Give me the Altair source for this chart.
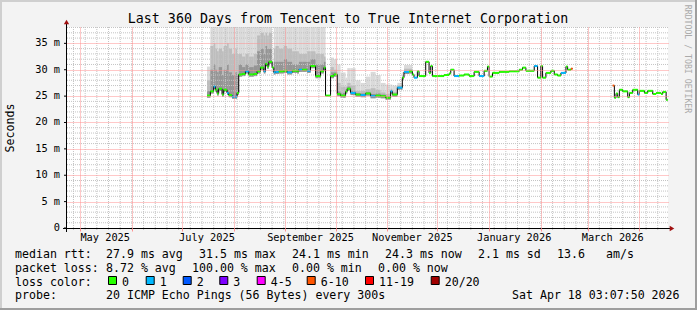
import altair as alt
import pandas as pd

MONO = "DejaVu Sans Mono"
L, T, W, H = 67, 27, 601, 201  # plot origin and size (pixels)

TITLE = "Last 360 Days from Tencent to True Internet Corporation"

dates = [
    "2025-07-16", "2025-07-18", "2025-07-20", "2025-07-21", "2025-07-22", "2025-07-23", "2025-07-25", "2025-07-26", "2025-07-28", "2025-07-29",
    "2025-07-31", "2025-08-02", "2025-08-03", "2025-08-04", "2025-08-06", "2025-08-08", "2025-08-10", "2025-08-13", "2025-08-15", "2025-08-17",
    "2025-08-19", "2025-08-20", "2025-08-21", "2025-08-22", "2025-08-24", "2025-08-25", "2025-08-26", "2025-08-28", "2025-08-31", "2025-09-02",
    "2025-09-05", "2025-09-08", "2025-09-09", "2025-09-11", "2025-09-14", "2025-09-16", "2025-09-19", "2025-09-22", "2025-09-24", "2025-09-25",
    "2025-09-26", "2025-09-28", "2025-09-30", "2025-10-02", "2025-10-04", "2025-10-07", "2025-10-08", "2025-10-10", "2025-10-13", "2025-10-16",
    "2025-10-19", "2025-10-22", "2025-10-25", "2025-10-28", "2025-10-31", "2025-11-03", "2025-11-04", "2025-11-07", "2025-11-10", "2025-11-11",
    "2025-11-14", "2025-11-16", "2025-11-17", "2025-11-19", "2025-11-20", "2025-11-23", "2025-11-24", "2025-11-26", "2025-11-27", "2025-11-28",
    "2025-12-02", "2025-12-05", "2025-12-08", "2025-12-09", "2025-12-11", "2025-12-14", "2025-12-17", "2025-12-20", "2025-12-23", "2025-12-26",
    "2025-12-29", "2025-12-31", "2026-01-01", "2026-01-03", "2026-01-07", "2026-01-10", "2026-01-13", "2026-01-16", "2026-01-19", "2026-01-21",
    "2026-01-23", "2026-01-25", "2026-01-28", "2026-01-30", "2026-02-01", "2026-02-02", "2026-02-04", "2026-02-07", "2026-02-09", "2026-02-11",
    "2026-02-13", "2026-02-16", "2026-02-17", "2026-02-19",
    "2026-03-16", "2026-03-17", "2026-03-18", "2026-03-19", "2026-03-20", "2026-03-22", "2026-03-25", "2026-03-26", "2026-03-28", "2026-03-31",
    "2026-04-01", "2026-04-04", "2026-04-06", "2026-04-09", "2026-04-11", "2026-04-14", "2026-04-15", "2026-04-17",
]

median_ms = [
    25.1, 25.9, 26.8, 26.2, 25.5, 26.4, 25.3, 26.2, 25.6, 25.2,
    24.9, 24.9, 25.6, 29.1, 29.2, 29.7, 29.1, 29.2, 29.7, 30.4,
    29.7, 31.1, 30.6, 31.5, 30.4, 29.5, 29.6, 29.7, 29.8, 29.5,
    29.8, 29.7, 30.0, 30.0, 29.8, 30.7, 28.8, 29.7, 30.4, 25.1,
    25.1, 28.8, 29.1, 25.4, 25.1, 25.9, 26.4, 25.6, 25.3, 25.2,
    25.5, 25.0, 25.1, 25.0, 24.7, 25.9, 25.3, 26.6, 28.5, 29.6,
    29.7, 29.1, 28.5, 29.7, 28.8, 28.8, 31.5, 29.4, 30.7, 28.8,
    28.8, 29.0, 29.3, 30.0, 28.8, 28.9, 29.1, 28.8, 29.6, 28.8,
    29.8, 30.6, 28.7, 29.4, 29.6, 29.6, 29.7, 29.7, 30.0, 30.4,
    29.8, 29.8, 30.7, 28.5, 30.7, 28.5, 29.4, 29.8, 29.1, 28.9,
    29.4, 30.6, 30.0, 30.2,
    27.0, 24.7, 25.5, 24.8, 26.2, 25.9, 24.8, 25.6, 26.2, 25.3,
    26.0, 25.6, 26.0, 25.4, 25.6, 25.4, 25.8, 24.3,
]

loss = [
    "0", "0", "1", "0", "0", "0", "0", "0", "1", "0",
    "1", "1", "0", "0", "0", "1", "0", "0", "0", "0",
    "1", "0", "0", "0", "0", "1", "1", "0", "0", "1",
    "0", "0", "1", "0", "1", "0", "0", "0", "0", "0",
    "0", "0", "0", "0", "0", "0", "0", "1", "0", "1",
    "0", "1", "0", "0", "0", "1", "0", "1", "0", "1",
    "0", "0", "1", "0", "0", "0", "0", "0", "0", "0",
    "0", "0", "0", "0", "1", "0", "0", "0", "0", "1",
    "0", "0", "0", "0", "0", "0", "0", "0", "0", "0",
    "0", "0", "1", "0", "0", "0", "0", "0", "0", "0",
    "1", "0", "0", "6-10",
    "6-10", "0", "0", "0", "0", "0", "0", "0", "0", "1",
    "0", "0", "0", "0", "0", "0", "0", "0",
]

segment = [1] * 104 + [2] * 18

N = None
smoke_hi = [
    30.6, 38.1, 38.1, 38.1, 38.1, 38.1, 38.1, 38.1, 38.1, 38.1,
    38.1, 38.1, 38.1, 38.1, 38.1, 38.1, 38.1, 38.1, 38.1, 38.1,
    38.1, 38.1, 38.1, 38.1, N, 38.1, 38.1, 38.1, 38.1, 38.1,
    38.1, 38.1, 38.1, 38.1, 38.1, 38.1, 38.1, 38.1, 38.1, N,
    N, 32.3, 32.0, 31.0, 29.5, 28.5, 30.3, 30.3, 28.0, 27.5,
    28.7, 29.6, 29.0, 27.5, 27.2, 27.2, 27.0, 27.5, 29.5, 30.9,
    30.9,
] + [N] * 61
smoke_mid = [
    28.0, 34.5, 35.0, 34.0, 33.5, 34.0, 33.5, 34.5, 35.0, 34.0,
    33.0, 34.0, 33.0, 33.0, 32.5, 33.0, 32.5, 33.0, 36.5, 37.0,
    36.5, 37.0, 36.5, 37.0, N, 34.0, 34.5, 34.0, 34.5, 34.0,
    33.5, 33.5, 33.0, 33.0, 33.5, 33.5, 33.0, 33.0, 32.5, N,
    N, 30.5, 30.0, 27.5, 26.8, 26.8, 27.5, 27.0, 26.0, 26.0,
    26.3, 26.5, 26.2, 25.7, 25.4, 26.4, 25.8, 27.0, 29.0, 30.2,
    30.2,
] + [N] * 61
smoke_core = [
    26.0, 30.0, 31.0, 30.0, 29.5, 30.5, 29.0, 30.0, 31.0, 29.5,
    29.0, 29.5, 29.0, 31.0, 30.5, 31.0, 30.5, 30.8, 33.5, 34.0,
    33.0, 34.5, 34.0, 34.0, N, 31.5, 31.5, 31.5, 32.0, 31.5,
    31.0, 31.0, 31.5, 31.5, 31.5, 32.0, 31.0, 31.0, 31.5, N,
    N, 29.5, 29.5, 25.9, 25.6, 26.3, 26.8, 26.0, 25.6, 25.5,
    25.8, 25.4, 25.5, 25.3, 25.0, 26.1, 25.5, 26.8, 28.6, 29.7,
    29.8,
] + [N] * 61

loss_labels = ["0", "1", "2", "3", "4-5", "6-10", "11-19", "20/20"]
loss_colors = ["#26ff00", "#00b8ff", "#0059ff", "#7e00ff", "#ff00ff", "#ff5500", "#ff0000", "#a10000"]

rtt_stats = ["27.9 ms avg", "31.5 ms max", "24.1 ms min", "24.3 ms now", "2.1 ms sd", "13.6", "am/s"]
loss_stats = ["8.72 % avg", "100.00 % max", "0.00 % min", "0.00 % now"]
probe_text = "20 ICMP Echo Pings (56 Bytes) every 300s"
stamp = "Sat Apr 18 03:07:50 2026"
row_labels = ["median rtt:", "packet loss:", "loss color:", "probe:"]
y_ticks = [0, 5, 10, 15, 20, 25, 30, 35]
y_tick_labels = ["0", "5 m", "10 m", "15 m", "20 m", "25 m", "30 m", "35 m"]
x_label_dates = ["2025-05-16", "2025-07-16", "2025-09-16", "2025-11-16", "2026-01-16", "2026-03-16"]
x_labels = ["May 2025", "July 2025", "September 2025", "November 2025", "January 2026", "March 2026"]


# ---------------- data tables ----------------
def iso(ts):
    return ts.strftime("%Y-%m-%dT%H:%M:%SZ")


df = pd.DataFrame({"date": pd.to_datetime(dates), "ms": median_ms, "loss": loss, "seg": segment,
                   "hi": smoke_hi, "mid": smoke_mid, "core": smoke_core})
df["end"] = df.groupby("seg")["date"].shift(-1)
df["end"] = df["end"].fillna(df["date"] + pd.Timedelta(days=1))
df["d"] = df["date"].map(iso)
df["e"] = df["end"].map(iso)
df["lo"] = df["ms"] - 0.4
df = df.drop(columns=["date", "end"])

ends = df.groupby("seg").tail(1)[["e", "ms", "seg"]].rename(columns={"e": "d"})
line_df = pd.concat([df[["d", "ms", "seg"]], ends], ignore_index=True)

smoke_df = df.dropna(subset=["hi"])

ylab_df = pd.DataFrame({"v": y_ticks, "t": y_tick_labels})
xlab_df = pd.DataFrame({"d": [s + "T00:00:00Z" for s in x_label_dates], "t": x_labels})

# grid positions (calendar structure, not data)
months = pd.date_range("2025-05-01", "2026-04-01", freq="MS")
weeks = pd.date_range("2025-04-27", "2026-04-12", freq="7D")
week_df = pd.DataFrame({"d": [iso(t) for t in weeks]})
minor_y_df = pd.DataFrame({"v": [v for v in range(1, 39) if v % 5]})


def dt(ts):
    return alt.DateTime(year=ts.year, month=ts.month, date=ts.day, utc=True)


month_vals = [dt(t) for t in months]
major_y_vals = [5, 10, 15, 20, 25, 30, 35]

XS = alt.Scale(type="utc",
               domain=[alt.DateTime(year=2025, month=4, date=23, hours=3, minutes=7, seconds=50, utc=True),
                       alt.DateTime(year=2026, month=4, date=18, hours=3, minutes=7, seconds=50, utc=True)])
YS = alt.Scale(domain=[0, 38.1], nice=False, zero=True)

RED = "#ff9090"


def X(f, axis=None):
    return alt.X(f, type="temporal", scale=XS, axis=axis)


def Y(f, axis=None):
    return alt.Y(f, type="quantitative", scale=YS, axis=axis)


month_axis = alt.Axis(values=month_vals, grid=True, gridColor=RED, gridDash=[1, 1], gridWidth=1, gridOpacity=1,
                      labels=False, domain=False, title=None, zindex=1, orient="bottom", tickRound=True,
                      ticks=True, tickColor=RED, tickSize=3, tickWidth=1)
major_y_axis = alt.Axis(values=major_y_vals, grid=True, gridColor=RED, gridDash=[1, 1], gridWidth=1, gridOpacity=1,
                        labels=False, domain=False, title=None, zindex=1, orient="left", tickRound=True,
                        ticks=False)

layers = []

# smoke
layers.append(alt.Chart(smoke_df).mark_rect(color="#dadada", clip=True).encode(
    x=X("d"), x2=alt.X2("e"), y=Y("lo"), y2=alt.Y2("hi")))
layers.append(alt.Chart(smoke_df).mark_rect(color="#bdbdbd", clip=True).encode(
    x=X("d", month_axis), x2=alt.X2("e"), y=Y("lo", major_y_axis), y2=alt.Y2("mid")))
layers.append(alt.Chart(smoke_df).mark_rect(color="#959595", clip=True).encode(
    x=X("d"), x2=alt.X2("e"), y=Y("lo"), y2=alt.Y2("core")))

# minor dotted grid
layers.append(alt.Chart(minor_y_df).mark_rule(color="#c4c4c4", strokeDash=[1, 1], strokeWidth=1).encode(
    y=Y("v"), x=alt.value(0), x2=alt.value(W)))
layers.append(alt.Chart(week_df).mark_rule(color="#c4c4c4", strokeDash=[1, 1], strokeWidth=1).encode(
    x=X("d"), y=alt.value(0), y2=alt.value(H + 2)))

# median line: black steps + loss-coloured segments
layers.append(alt.Chart(line_df).mark_line(interpolate="step-after", color="#000000", strokeWidth=1).encode(
    x=X("d"), y=Y("ms"), detail="seg:N"))
layers.append(alt.Chart(df).mark_rule(strokeWidth=2).encode(
    x=X("d"), x2=alt.X2("e"), y=Y("ms"),
    color=alt.Color("loss:N", scale=alt.Scale(domain=loss_labels, range=loss_colors), legend=None)))

# tick labels through the shared scales
layers.append(alt.Chart(ylab_df).mark_text(align="right", baseline="middle", font=MONO, fontSize=10.3,
                                            color="#000").encode(y=Y("v"), x=alt.value(-7), text="t:N"))
layers.append(alt.Chart(ylab_df).mark_rule(color="#000", strokeWidth=1).encode(
    y=Y("v"), x=alt.value(-3), x2=alt.value(0)))
layers.append(alt.Chart(xlab_df).mark_text(align="center", baseline="middle", font=MONO, fontSize=10.3,
                                            color="#000").encode(x=X("d"), y=alt.value(H + 10), text="t:N"))

one = pd.DataFrame({"a": [0]})

# axis lines and arrows
layers.append(alt.Chart(one).mark_rule(color="#000", strokeWidth=1).encode(
    x=alt.value(-0.5), y=alt.value(-5), y2=alt.value(H + 4)))
layers.append(alt.Chart(one).mark_rule(color="#000", strokeWidth=1).encode(
    y=alt.value(H + 0.5), x=alt.value(-4), x2=alt.value(W + 2)))
layers.append(alt.Chart(one).mark_point(shape="triangle-up", filled=True, color="#a01010", size=28, opacity=1).encode(
    x=alt.value(-0.5), y=alt.value(-5)))
layers.append(alt.Chart(one).mark_point(shape="triangle-right", filled=True, color="#a01010", size=28, opacity=1).encode(
    x=alt.value(W + 4), y=alt.value(H + 0.5)))

# outer 3D border
for (x1, x2, y1, y2, c) in [(-L, 697 - L, -T + 1, None, "#cfcfcf"), (-L + 1, None, -T, 310 - T, "#cfcfcf"),
                            (-L, 697 - L, 310 - T - 1, None, "#9e9e9e"), (697 - L - 1, None, -T, 310 - T, "#9e9e9e")]:
    enc = {"x": alt.value(x1), "y": alt.value(y1)}
    if x2 is not None:
        enc["x2"] = alt.value(x2)
    if y2 is not None:
        enc["y2"] = alt.value(y2)
    layers.append(alt.Chart(one).mark_rule(color=c, strokeWidth=2).encode(**enc))


def txt(s, ax, ay, size=11.6, align="left", angle=0, color="#000000"):
    return alt.Chart(pd.DataFrame({"t": [s]})).mark_text(
        align=align, baseline="middle", font=MONO, fontSize=size, angle=angle, color=color).encode(
        x=alt.value(ax - L), y=alt.value(ay - T), text="t:N")


layers.append(txt(TITLE, 348, 19, size=13.3, align="center"))
layers.append(txt("Seconds", 11, 128, size=11.6, align="center", angle=270))
layers.append(txt("RRDTOOL / TOBI OETIKER", 687, 59, size=8.2, align="center", angle=90, color="#aaaaaa"))

row_y = [254.5, 268.5, 282.5, 296]
for lbl, yy in zip(row_labels, row_y):
    layers.append(txt(lbl, 15, yy))
for s, xx in zip(rtt_stats, [106, 199, 292, 385, 478, 557, 606]):
    layers.append(txt(s, xx, row_y[0]))
for s, xx in zip(loss_stats, [106, 192, 292, 378]):
    layers.append(txt(s, xx, row_y[1]))
sq_left = [108, 145.7, 182.7, 219.3, 256.7, 306.7, 365, 430.7]
for lbl, c, xx in zip(loss_labels, loss_colors, sq_left):
    layers.append(alt.Chart(one).mark_square(size=64, fill=c, stroke="#000", strokeWidth=1, opacity=1).encode(
        x=alt.value(xx + 4.5 - L), y=alt.value(280.5 - T)))
    layers.append(txt(lbl, xx + 14, row_y[2]))
layers.append(txt(probe_text, 106, row_y[3]))
layers.append(txt(stamp, 512, row_y[3]))

chart = alt.layer(*layers).resolve_axis(x="independent", y="independent").properties(
    width=W, height=H,
    padding={"left": L, "top": T, "right": 697 - L - W, "bottom": 310 - T - H},
    autosize=alt.AutoSizeParams(type="none"),
).configure(background="#f3f3f3", font=MONO).configure_view(stroke=None, fill="#ffffff")

chart.save("out.html", embed_options={"renderer": "svg", "actions": False})
